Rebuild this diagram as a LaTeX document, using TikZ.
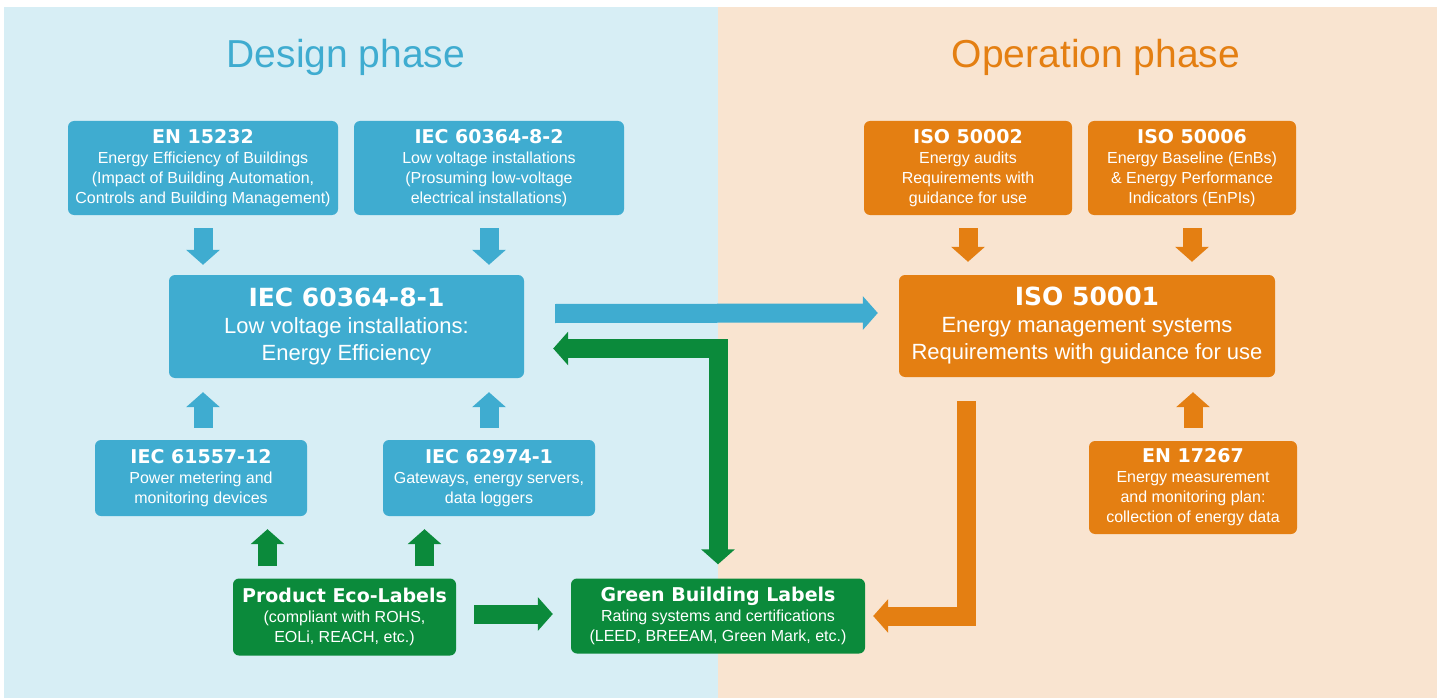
\documentclass[tikz,border=0pt]{standalone}
\usepackage{fontspec}
\setmainfont{Liberation Sans}
\newfontfamily\hd{DejaVu Sans}
\usetikzlibrary{arrows.meta}

\definecolor{bluebox}{HTML}{3FACD0}
\definecolor{bluebg}{HTML}{D7EEF5}
\definecolor{orangebox}{HTML}{E47F12}
\definecolor{orangebg}{HTML}{F9E4D0}
\definecolor{greenbox}{HTML}{0B8A3B}

\newcommand{\ttl}[1]{{\fontsize{19}{21}\hd\bfseries #1}}
\newcommand{\bigttl}[1]{{\fontsize{25}{28}\hd\bfseries #1}}

\tikzset{
  box/.style={rounded corners=6pt, text=white, align=center, inner sep=0pt,
    font=\fontsize{16}{20}\selectfont},
  bbox/.style={box, fill=bluebox},
  obox/.style={box, fill=orangebox},
  gbox/.style={box, fill=greenbox},
  bigbox/.style={font=\fontsize{22}{27}\selectfont},
  fat/.style={line width=19pt, line join=miter, -{Triangle[length=15pt,width=33pt]}},
  barrow/.style={fat, draw=bluebox},
  oarrow/.style={fat, draw=orangebox},
  garrow/.style={fat, draw=greenbox}
}

\begin{document}
\begin{tikzpicture}[x=1pt,y=-1pt]
\useasboundingbox (0,0) rectangle (1444,698);
\fill[bluebg] (4,7) rectangle (717.5,698);
\fill[orangebg] (717.5,7) rectangle (1437,698);

\node[text=bluebox, font=\fontsize{39}{44}\selectfont] (design) at (346,57) {Design phase};
\node[text=orangebox, font=\fontsize{39}{44}\selectfont] (operation) at (1096,57) {Operation phase};

% design side
\node[bbox, minimum width=270pt, minimum height=94pt] (en) at (203,168) {\ttl{EN 15232}\\Energy Efficiency of Buildings\\(Impact of Building Automation,\\Controls and Building Management)};
\node[bbox, minimum width=270pt, minimum height=94pt] (iec82) at (489,168) {\ttl{IEC 60364-8-2}\\Low voltage installations\\(Prosuming low-voltage\\electrical installations)};
\node[bbox, bigbox, minimum width=355pt, minimum height=103pt] (iec81) at (346.5,326.5) {\bigttl{IEC 60364-8-1}\\Low voltage installations:\\Energy Efficiency};
\node[bbox, minimum width=212pt, minimum height=76pt] (iec5) at (201,478) {\ttl{IEC 61557-12}\\Power metering and\\monitoring devices};
\node[bbox, minimum width=212pt, minimum height=76pt] (iec6) at (489,478) {\ttl{IEC 62974-1}\\Gateways, energy servers,\\data loggers};
\node[gbox, minimum width=223pt, minimum height=77pt] (prod) at (344.5,617) {\ttl{Product Eco-Labels}\\(compliant with ROHS,\\EOLi, REACH, etc.)};
\node[gbox, minimum width=294pt, minimum height=75pt] (gbl) at (718,616) {\ttl{Green Building Labels}\\Rating systems and certifications\\(LEED, BREEAM, Green Mark, etc.)};

% operation side
\node[obox, minimum width=208pt, minimum height=94pt] (iso2) at (968,168) {\ttl{ISO 50002}\\Energy audits\\Requirements with\\guidance for use};
\node[obox, minimum width=208pt, minimum height=94pt] (iso6) at (1192,168) {\ttl{ISO 50006}\\Energy Baseline (EnBs)\\\& Energy Performance\\Indicators (EnPIs)};
\node[obox, bigbox, minimum width=376pt, minimum height=102pt] (iso1) at (1087,326) {\bigttl{ISO 50001}\\Energy management systems\\Requirements with guidance for use};
\node[obox, minimum width=208pt, minimum height=93pt] (en17) at (1193,487.5) {\ttl{EN 17267}\\Energy measurement\\and monitoring plan:\\collection of energy data};

% arrows
\draw[barrow] ([yshift=-13pt]en.south) -- ([yshift=10pt]en.south |- iec81.north);
\draw[barrow] ([yshift=-13pt]iec82.south) -- ([yshift=10pt]iec82.south |- iec81.north);
\draw[barrow] ([yshift=12pt]en.south |- iec5.north) -- ([yshift=-14pt]en.south |- iec81.south);
\draw[barrow] ([yshift=12pt]iec6.north) -- ([yshift=-14pt]iec6.north |- iec81.south);
\draw[garrow] ([xshift=-77pt,yshift=12pt]prod.north) -- ([xshift=-77pt,yshift=-13pt]prod.north |- iec5.south);
\draw[garrow] ([xshift=80pt,yshift=12pt]prod.north) -- ([xshift=80pt,yshift=-13pt]prod.north |- iec6.south);
\draw[garrow] ([xshift=18pt,yshift=3pt]prod.east) -- ([xshift=-18pt,yshift=3pt]gbl.west |- prod.east);
\draw[barrow] ([xshift=31pt,yshift=13pt]iec81.east) -- ([xshift=-21pt,yshift=13pt]iso1.west);
\draw[garrow, {Triangle[length=15pt,width=33pt]}-{Triangle[length=15pt,width=33pt]}] ([xshift=29pt,yshift=-22pt]iec81.east) -| ([yshift=14pt]gbl.north);
\draw[oarrow] ([yshift=-13pt]iso2.south) -- ([yshift=13pt]iso2.south |- iso1.north);
\draw[oarrow] ([yshift=-13pt]iso6.south) -- ([yshift=13pt]iso6.south |- iso1.north);
\draw[oarrow] ([yshift=13pt]en17.north) -- ([yshift=-15pt]en17.north |- iso1.south);
\draw[oarrow] ([xshift=-121pt,yshift=-24pt]iso1.south) |- ([xshift=8pt]gbl.east);
\end{tikzpicture}
\end{document}
